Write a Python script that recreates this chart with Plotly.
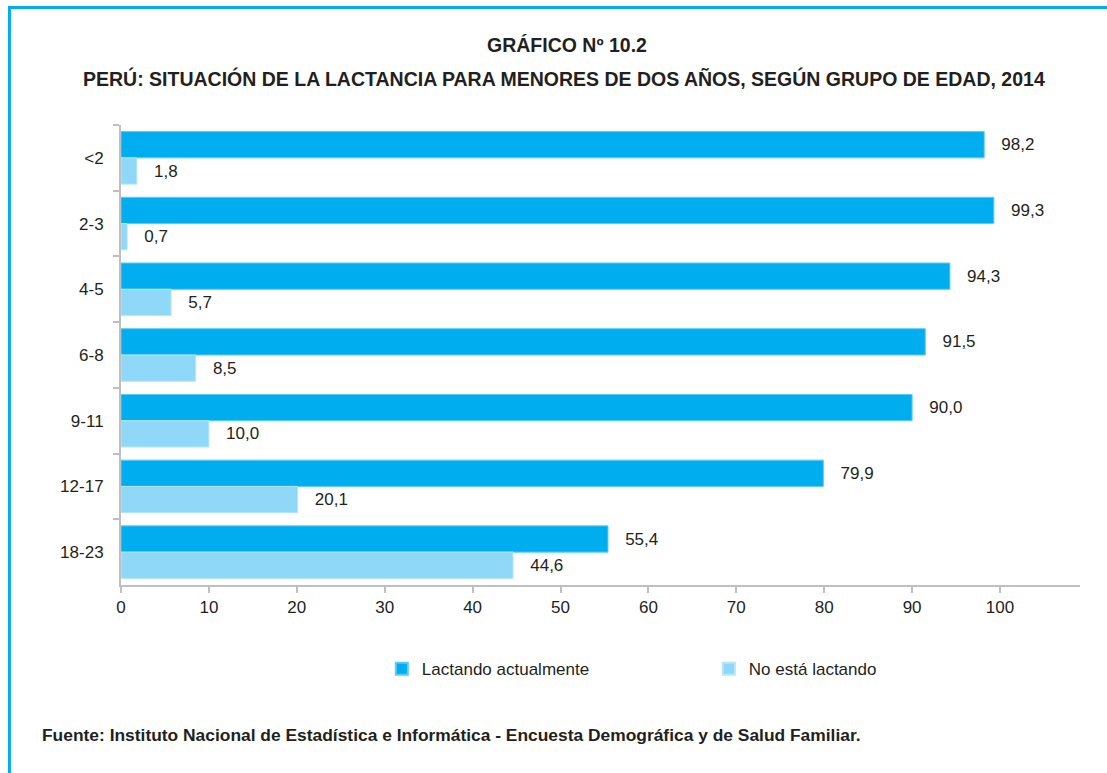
import plotly.graph_objects as go

# Age groups (months) and breastfeeding status shares (%)
grupos = ["<2", "2-3", "4-5", "6-8", "9-11", "12-17", "18-23"]
lactando = [98.2, 99.3, 94.3, 91.5, 90.0, 79.9, 55.4]
no_lactando = [1.8, 0.7, 5.7, 8.5, 10.0, 20.1, 44.6]
ticks_x = [0, 10, 20, 30, 40, 50, 60, 70, 80, 90, 100]

FONT = "Liberation Sans, Arial, sans-serif"
AZUL = "#00AEEF"
CELESTE = "#8FD8F7"
EJE = "#BFBFBF"
TEXTO = "#231F20"

fig = go.Figure()
fig.add_trace(go.Bar(
    y=grupos, x=lactando, orientation="h", name="Lactando actualmente",
    marker=dict(color=AZUL, line=dict(color="#5CCBF5", width=1)),
    text=lactando, texttemplate="\u00a0\u00a0\u00a0%{x:.1f}", textposition="outside",
    textfont=dict(family=FONT, size=17, color=TEXTO), cliponaxis=False,
))
fig.add_trace(go.Bar(
    y=grupos, x=no_lactando, orientation="h", name="No está lactando",
    marker=dict(color=CELESTE, line=dict(color="#B5E6FA", width=1)),
    text=no_lactando, texttemplate="\u00a0\u00a0\u00a0%{x:.1f}", textposition="outside",
    textfont=dict(family=FONT, size=17, color=TEXTO), cliponaxis=False,
))

fig.update_layout(
    width=1107, height=773,
    margin=dict(l=121, r=27, t=125, b=188),
    paper_bgcolor="white", plot_bgcolor="white",
    barmode="group", bargap=0.2, bargroupgap=0,
    separators=", ",
    font=dict(family=FONT, size=17, color=TEXTO),
    showlegend=True,
    legend=dict(
        orientation="h", x=0.272, xanchor="left", y=-0.183, yanchor="middle",
        entrywidth=282, entrywidthmode="pixels",
        font=dict(family=FONT, size=17, color=TEXTO),
        itemsizing="constant", traceorder="normal",
    ),
    xaxis=dict(
        range=[0, 109.1], tickvals=ticks_x, showgrid=False, zeroline=False,
        showline=True, linecolor=EJE, linewidth=2,
        ticks="outside", ticklen=6, tickwidth=1.5, tickcolor=EJE,
        tickfont=dict(family=FONT, size=17, color=TEXTO),
    ),
    yaxis=dict(
        autorange="reversed", showgrid=False, zeroline=False,
        showline=True, linecolor=EJE, linewidth=2,
        ticks="outside", tickson="boundaries", ticklen=6, tickwidth=1.5, tickcolor=EJE,
        ticklabelstandoff=12,
        tickfont=dict(family=FONT, size=17, color=TEXTO),
    ),
    annotations=[
        dict(text="<b>GRÁFICO Nº 10.2</b>", xref="paper", yref="paper",
             x=0.465, y=1.174, xanchor="center", yanchor="middle", showarrow=False,
             font=dict(family=FONT, size=19.5, color=TEXTO)),
        dict(text="<b>PERÚ: SITUACIÓN DE LA LACTANCIA PARA MENORES DE DOS AÑOS, SEGÚN GRUPO DE EDAD, 2014</b>",
             xref="paper", yref="paper",
             x=0.462, y=1.102, xanchor="center", yanchor="middle", showarrow=False,
             font=dict(family=FONT, size=19.5, color=TEXTO)),
        dict(text="<b>Fuente: Instituto Nacional de Estadística e Informática - Encuesta Demográfica y de Salud Familiar.</b>",
             xref="paper", yref="paper",
             x=-0.0845, y=-0.326, xanchor="left", yanchor="middle", showarrow=False,
             font=dict(family=FONT, size=17.4, color=TEXTO)),
    ],
    shapes=[
        dict(type="rect", xref="paper", yref="paper",
             x0=-0.1163, x1=1.04, y0=-0.43, y1=1.2554,
             line=dict(color=AZUL, width=3), fillcolor="rgba(0,0,0,0)", layer="below"),
    ],
)

fig.write_html("out.html")
